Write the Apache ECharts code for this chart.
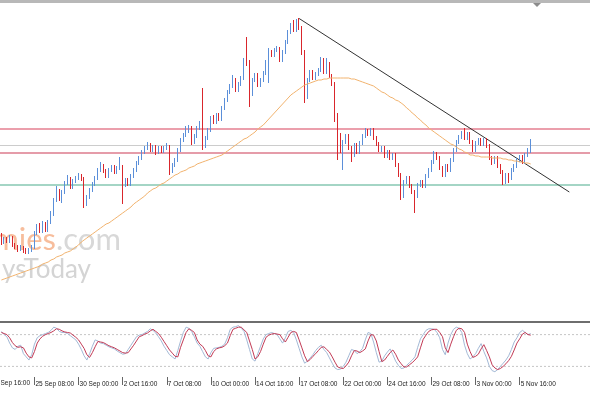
<!DOCTYPE html>
<html><head><meta charset="utf-8">
<script src="https://cdn.jsdelivr.net/npm/echarts@6/dist/echarts.min.js"></script>
<style>html,body{margin:0;padding:0;background:#fff}#c{width:590px;height:393px}</style>
</head><body><div id="c"></div>
<script>
// ---- axis: H4 bars, weekends skipped, 23 Sep 2014 08:00 onwards (193 bars + empty chart shift)
const months=['Jan','Feb','Mar','Apr','May','Jun','Jul','Aug','Sep','Oct','Nov','Dec'];
const totalSlots=214;
const categories=[];
(function(){let t=Date.UTC(2014,8,23,8);while(categories.length<totalSlots){const d=new Date(t);const wd=d.getUTCDay();if(wd!==0&&wd!==6){categories.push(d.getUTCDate()+' '+months[d.getUTCMonth()]+' '+String(d.getUTCHours()).padStart(2,'0')+':00');}t+=4*3600e3;}})();
const tickLabels=['25 Sep 08:00','30 Sep 00:00','2 Oct 16:00','7 Oct 08:00','10 Oct 00:00','14 Oct 16:00','17 Oct 08:00','22 Oct 00:00','24 Oct 16:00','29 Oct 08:00','3 Nov 00:00','5 Nov 16:00'];
const cutLabel='22 Sep 16:00';

// ---- candles [open, close, low, high]
const candles=[
[164,158,155,167],[158,161,156,163],[161,159,157,163],[159,162,157,165],[162,155,153,164],[155,153,151,157],[153,151,148,155],[151,153,149,155],[153,150,147,154],[150,148,146,152],
[148,150,146,152],[150,153,148,155],[153,167,151,169],[167,174,165,176],[174,169,167,177],[169,176,167,179],[176,170,168,178],[170,178,168,180],[178,187,176,189],[187,200,184,202],
[200,210,198,214],[209,201,199,211],[201,208,197,210],[208,217,206,219],[217,221,215,225],[221,213,211,223],[213,219,211,221],[219,222,217,224],[222,224,220,227],[224,221,219,226],
[221,195,192,223],[196,203,194,205],[203,210,201,212],[210,216,208,218],[216,222,214,224],[222,230,220,232],[230,234,228,238],[234,229,227,236],[229,224,222,231],[224,230,222,232],
[230,233,228,235],[233,228,226,235],[228,232,226,234],[232,234,230,243],[233,215,196,235],[216,220,213,222],[220,216,214,222],[216,224,214,226],[224,230,222,232],[230,237,228,239],
[237,242,235,244],[242,248,240,250],[248,252,246,254],[252,255,250,258],[255,250,248,257],[250,253,248,255],[253,248,245,255],[248,252,246,254],[252,249,247,254],[249,252,247,254],
[252,254,250,257],[253,229,225,255],[229,235,227,237],[235,240,233,242],[240,250,238,252],[250,260,248,262],[260,265,258,267],[265,270,263,274],[270,272,267,275],[272,258,255,274],
[258,264,256,266],[264,272,262,274],[272,277,270,279],[277,254,250,312],[254,262,252,264],[262,270,260,272],[270,282,268,284],[282,278,276,285],[278,285,276,287],[285,281,279,287],
[281,292,279,294],[292,300,290,302],[300,308,298,310],[308,314,306,316],[314,320,312,325],[320,310,308,322],[310,316,308,318],[316,322,314,324],[322,340,320,342],[345,337,334,363],
[337,306,293,340],[307,320,304,322],[320,325,318,327],[325,315,313,327],[315,320,313,322],[320,327,318,329],[327,338,325,340],[338,348,317,352],[348,345,343,350],[345,350,343,352],
[350,352,348,354],[351,340,338,353],[340,348,338,350],[348,358,346,360],[358,368,356,370],[368,375,366,377],[375,370,368,380],[370,378,368,381],[378,372,370,382],[372,348,345,374],
[348,302,297,350],[303,320,301,322],[320,328,318,330],[328,322,320,330],[322,326,320,328],[326,330,324,332],[330,340,328,343],[340,328,326,342],[328,336,326,342],[336,324,322,338],
[324,316,314,326],[316,282,278,318],[285,265,240,287],[265,250,247,267],[250,258,230,260],[258,264,256,266],[264,252,250,266],[252,245,238,254],[245,255,243,257],[255,248,246,257],
[248,257,246,259],[257,264,255,266],[264,269,262,272],[269,266,264,271],[266,270,264,272],[270,262,260,272],[262,256,254,264],[256,250,248,258],[250,252,248,254],[252,244,242,254],
[244,248,242,250],[248,242,240,250],[242,245,240,247],[245,235,233,247],[235,225,223,237],[225,203,200,227],[204,218,202,220],[218,222,216,224],[222,214,212,224],[214,208,206,216],
[208,202,187,210],[204,215,202,217],[215,218,213,220],[218,214,212,220],[214,224,212,226],[224,230,222,232],[230,238,228,240],[238,246,236,249],[246,242,240,248],[242,232,230,244],
[232,225,223,234],[225,234,223,236],[234,230,228,236],[230,240,228,242],[240,250,238,252],[250,258,248,260],[258,263,256,265],[263,267,261,269],[267,262,260,272],[262,266,260,268],
[266,258,256,268],[258,250,248,260],[250,257,248,259],[257,260,255,262],[260,256,254,262],[256,260,254,262],[260,254,252,262],[254,242,240,256],[242,238,235,244],[238,242,236,244],
[242,234,232,244],[234,228,226,236],[228,218,215,230],[218,225,216,227],[225,222,217,227],[222,230,220,232],[230,234,228,236],[234,240,232,242],[240,242,238,245],[243,238,236,245],
[238,245,236,247],[245,250,243,252],[249,258,247,261]
];

// ---- moving average (orange)
const maValues=[
120,121,122,123,124,125,126,127,128,129,
130,131,132,133,134,136,137,138,140,141,
143,144,145,147,148,149,151,153,155,158,
160,162,164,166,168,170,172,174,176,177,
179,181,183,185,187,189,191,193,196,198,
200,202,204,207,209,211,212,214,216,217,
219,221,223,225,226,228,229,230,232,233,
234,236,237,238,239,240,241,242,243,244,
245,247,249,251,253,255,257,259,261,262,
264,266,268,271,273,275,278,281,284,287,
290,293,296,299,302,305,307,309,311,313,
315,316,317,318,319,320,320,321,321,322,
322,322,322,322,322,322,322,321,321,320,
319,318,317,316,315,314,312,310,308,307,
305,303,302,300,299,297,295,292,290,287,
285,282,280,277,275,272,270,268,266,264,
262,260,258,256,255,253,251,250,248,247,
245,245,244,244,243,243,243,243,242,242,
242,242,241,241,240,240,239,239,238,238,
237,237,236
];

// ---- horizontal levels and trend line
const levelValues=[271,254.5,247,215];
const levelColors=['#d8405a','#cccccc','#cc3a55','#4aab8c'];
const levelWidths=[1.1,1,1.1,1.1];
const trendLine=[[108,381.5],[206,208]];

// ---- stochastic oscillator
const stochK=[
86,80,76,64,55,52,58,60,44,38,
32,42,62,74,78,80,82,84,88,94,
92,86,84,84,82,78,74,70,62,52,
40,32,44,58,70,68,64,63,60,57,
55,53,49,46,43,44,52,60,68,76,
79,80,83,86,91,88,83,76,68,58,
50,42,38,34,50,68,84,94,92,86,
76,64,58,48,38,34,46,54,55,56,
58,62,74,90,94,95,97,92,86,70,
52,34,30,44,58,72,80,82,84,82,
80,72,64,74,86,88,84,70,54,38,
26,30,36,42,50,56,60,52,46,36,
26,17,14,15,20,28,40,52,50,44,
48,54,70,84,82,66,46,28,30,40,
47,53,42,30,22,16,17,22,27,32,
38,56,72,80,88,91,91,90,84,74,
52,42,64,80,90,94,92,84,60,44,
34,38,44,54,63,48,36,20,12,10,
14,20,26,32,40,52,66,74,84,88,
84,80,82
];
const stochD=[
84,82,80,74,65,59,56,57,55,45,
38,36,48,64,72,77,80,82,84,87,
91,90,87,85,84,83,79,75,70,62,
54,42,37,46,57,67,66,65,62,59,
57,55,52,49,46,45,46,53,60,68,
76,78,81,83,87,90,86,82,75,67,
59,51,45,39,38,56,70,84,91,88,
84,70,62,58,50,40,38,48,53,55,
56,59,64,78,90,92,94,94,89,84,
68,52,34,38,48,62,75,79,81,82,
81,80,72,66,75,84,86,84,70,55,
40,29,33,39,44,50,56,57,52,47,
38,28,19,17,16,21,28,40,50,49,
46,49,53,68,80,79,68,48,29,32,
39,46,51,43,32,25,19,19,23,27,
32,38,55,71,79,86,89,90,90,84,
76,55,46,62,76,88,92,91,84,62,
48,37,39,43,53,61,50,38,23,17,
14,16,20,25,31,39,51,64,72,81,
84,80,79
];
const stochLevels=[80,20];

const chart=echarts.init(document.getElementById('c'),null,{renderer:'canvas'});
const showTick=(i,v)=>tickLabels.indexOf(v)>=0;

const levelSeries=levelValues.map((v,k)=>({
  type:'line',xAxisIndex:2,yAxisIndex:0,data:[[0,v],[1,v]],symbol:'none',showSymbol:false,silent:true,z:1,
  color:levelColors[k],
  lineStyle:{color:levelColors[k],width:levelWidths[k],type:'solid',opacity:1}
}));
const stochLevelSeries=stochLevels.map(v=>({
  type:'line',xAxisIndex:3,yAxisIndex:1,data:[[0,v],[1,v]],symbol:'none',showSymbol:false,silent:true,z:1,
  lineStyle:{color:'#c6c6c6',width:1,type:[2,2]}
}));

const option={
  animation:false,
  backgroundColor:'#ffffff',
  grid:[{left:0,right:0,top:0,height:320},{left:0,right:0,top:324,height:53}],
  xAxis:[
    {type:'category',gridIndex:0,data:categories,boundaryGap:true,show:false},
    {type:'category',gridIndex:1,data:categories,boundaryGap:true,
     axisLine:{show:false},
     axisTick:{show:true,alignWithLabel:true,interval:showTick,length:8,lineStyle:{color:'#666',width:1}},
     axisLabel:{interval:showTick,align:'left',fontSize:6.5,color:'#222',fontFamily:'Liberation Sans',margin:4,padding:[0,0,0,1]},
     splitLine:{show:false}},
    {type:'value',gridIndex:0,min:0,max:1,show:false,splitLine:{show:false}},
    {type:'value',gridIndex:1,min:0,max:1,show:false,splitLine:{show:false}}
  ],
  yAxis:[
    {type:'value',gridIndex:0,min:80,max:400,show:false,splitLine:{show:false}},
    {type:'value',gridIndex:1,min:0,max:100,show:false,splitLine:{show:false}}
  ],
  graphic:[
    {type:'rect',shape:{x:0,y:0,width:590,height:3},style:{fill:'#b8b8b8'},silent:true},
    {type:'polygon',shape:{points:[[533,3],[541,3],[537,7]]},style:{fill:'#8c8c8c'},silent:true},
    {type:'rect',shape:{x:0,y:321,width:590,height:2},style:{fill:'#6e6e6e'},silent:true},
    {type:'text',style:{text:'economies',x:56,y:224,textAlign:'right',textVerticalAlign:'top',font:'31px Lato',fill:'#f7bd9c'},silent:true},
    {type:'text',style:{text:'.com',x:56,y:224,textAlign:'left',textVerticalAlign:'top',font:'31px Lato',fill:'#d8d8d8'},silent:true},
    {type:'text',style:{text:'ysToday',x:91,y:257,textAlign:'right',textVerticalAlign:'top',font:'26px Lato',fill:'#d4d4d4'},silent:true},
    {type:'text',style:{text:cutLabel,x:-8.6,y:380,textAlign:'left',textVerticalAlign:'top',font:'6.5px Liberation Sans',fill:'#222'},silent:true}
  ],
  series:[
    ...levelSeries,
    ...stochLevelSeries,
    {type:'line',xAxisIndex:0,yAxisIndex:0,data:trendLine,symbol:'none',showSymbol:false,silent:true,z:1,
     lineStyle:{color:'#333333',width:1}},
    {type:'candlestick',xAxisIndex:0,yAxisIndex:0,data:candles,barWidth:1.3,z:2,
     itemStyle:{color:'#5b8fd9',color0:'#d9262c',borderColor:'#5b8fd9',borderColor0:'#d9262c',borderWidth:1}},
    {type:'line',xAxisIndex:0,yAxisIndex:0,data:maValues,showSymbol:false,symbol:'none',
     lineStyle:{color:'#f2b36e',width:1},z:3},
    {type:'line',xAxisIndex:1,yAxisIndex:1,data:stochK,showSymbol:false,symbol:'none',
     lineStyle:{color:'#a3b9d6',width:1},z:3},
    {type:'line',xAxisIndex:1,yAxisIndex:1,data:stochD,showSymbol:false,symbol:'none',
     lineStyle:{color:'#c23a55',width:1},z:3}
  ]
};
chart.setOption(option);
</script></body></html>
